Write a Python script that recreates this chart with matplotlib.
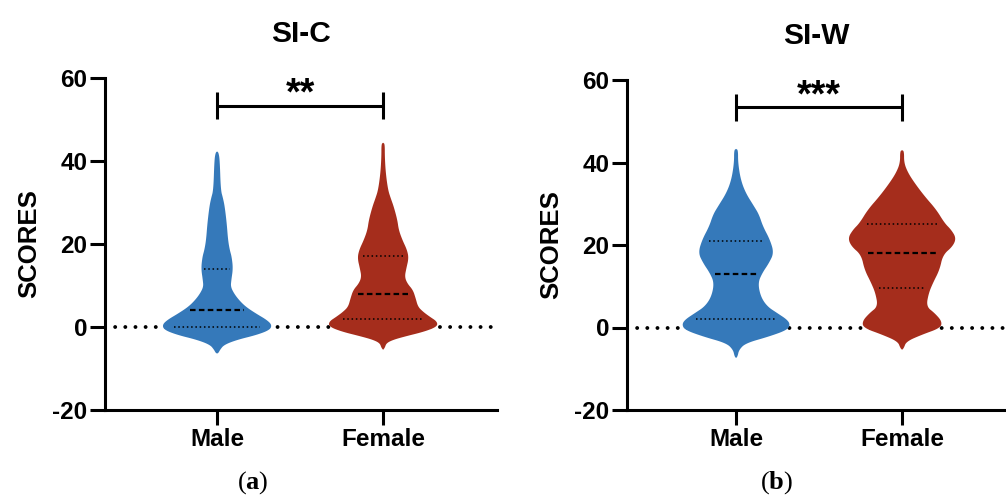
import numpy as np
import matplotlib
matplotlib.use("Agg")
import matplotlib.pyplot as plt

plt.rcParams.update({
    "font.family": "Liberation Sans",
    "font.weight": "bold",
    "axes.labelweight": "bold",
    "axes.unicode_minus": False,
    "mathtext.fontset": "custom",
    "mathtext.rm": "Liberation Serif",
    "mathtext.bf": "Liberation Serif:bold",
})

GROUPS = ["Male", "Female"]
PANELS = ["SI-C", "SI-W"]
PANEL_TAGS = ["a", "b"]
STARS = ["**", "***"]
Y_TICKS = [-20, 0, 20, 40, 60]

# violin outlines: score level -> density (half width, arbitrary units)
SIC_MALE_LEVELS = [42.3, 42.0, 40.2, 33.0, 31.0, 29.0, 25.0, 21.0, 18.6, 16.9, 14.1, 11.3, 9.7,
                   8.1, 6.5, 4.9, 3.3, 1.7, 0.5, -0.7, -1.9, -3.1, -4.3, -5.5, -6.2, -6.4]
SIC_MALE_DENS = [0, 1.5, 2.7, 3.7, 6.0, 7.7, 9.7, 11.0, 12.7, 14.7, 16.0, 14.3, 13.7,
                 17.0, 22.0, 28.7, 38.7, 50.0, 55.0, 53.0, 40.0, 20.0, 7.0, 3.0, 1.5, 0]

SIC_FEMALE_LEVELS = [44.4, 44.1, 41.0, 37.0, 33.0, 31.0, 29.0, 25.8, 23.4, 21.0, 18.6, 16.6, 14.1,
                     12.1, 10.5, 8.9, 6.9, 4.9, 3.7, 2.5, 1.3, 0.1, -1.1, -2.3, -3.1, -3.9, -5.0, -5.5]
SIC_FEMALE_DENS = [0, 1.7, 1.7, 2.7, 5.0, 7.7, 10.7, 14.3, 15.7, 19.3, 24.0, 25.7, 23.3,
                   21.7, 24.3, 30.0, 32.7, 35.0, 40.0, 46.7, 54.3, 54.3, 41.7, 21.7, 10.0, 3.3, 1.7, 0]

SIW_MALE_LEVELS = [43.3, 43.0, 39.9, 35.8, 32.6, 29.4, 27.4, 24.5, 21.3, 18.1, 15.6, 13.2,
                   10.8, 7.5, 5.1, 3.5, 1.9, 0.7, -0.6, -2.2, -3.8, -5.4, -7.0, -7.4]
SIW_MALE_DENS = [0, 2.0, 2.0, 4.7, 9.7, 18.0, 23.0, 27.0, 34.0, 38.0, 33.0, 26.3,
                 22.0, 24.7, 31.3, 41.3, 51.3, 54.3, 51.3, 33.0, 9.7, 3.0, 1.5, 0]

SIW_FEMALE_LEVELS = [43.0, 42.7, 39.9, 37.5, 35.0, 31.8, 28.6, 25.3, 23.7, 21.7, 19.7, 17.6,
                     14.0, 10.8, 8.3, 5.1, 3.5, 1.5, -0.1, -1.8, -3.4, -5.0, -5.4]
SIW_FEMALE_DENS = [0, 2.0, 2.0, 6.0, 12.7, 22.7, 34.3, 42.7, 49.3, 54.3, 51.0, 41.0,
                   37.7, 31.0, 26.7, 24.3, 32.7, 40.0, 38.7, 19.3, 4.3, 1.7, 0]

# lower quartile, median, upper quartile
SIC_MALE_QUART = [0, 4, 14]
SIC_FEMALE_QUART = [2, 8, 17]
SIW_MALE_QUART = [2, 13, 21]
SIW_FEMALE_QUART = [9.5, 18, 25]

# significance bracket height (score)
BRACKET_Y = [53.3, 53.4]

COLORS = ["#3579ba", "#a52d1c"]
MAX_HALF = 0.33   # half width of widest violin, in group units
LINE_FRAC = 0.8   # quartile lines don't reach the violin edge


def chaikin(x, y, n_iter=3):
    # corner cutting on a closed outline, just to round off the polygon look
    for _ in range(n_iter):
        x2 = np.roll(x, -1)
        y2 = np.roll(y, -1)
        qx, qy = 0.75 * x + 0.25 * x2, 0.75 * y + 0.25 * y2
        rx, ry = 0.25 * x + 0.75 * x2, 0.25 * y + 0.75 * y2
        x = np.column_stack([qx, rx]).ravel()
        y = np.column_stack([qy, ry]).ravel()
    return x, y


def draw_violin(ax, pos, levels, dens, quart, color, dmax):
    levels = np.asarray(levels, dtype=float)
    w = np.asarray(dens, dtype=float) / dmax * MAX_HALF
    xs = np.concatenate([pos + w, (pos - w)[::-1]])
    ys = np.concatenate([levels, levels[::-1]])
    xs, ys = chaikin(xs, ys)
    ax.fill(xs, ys, color=color, lw=0, zorder=2)

    order = np.argsort(levels)
    for i, q in enumerate(quart):
        hw = np.interp(q, levels[order], w[order]) * LINE_FRAC
        if i == 1:
            ax.plot([pos - hw, pos + hw], [q, q], color="black", lw=1.6,
                    linestyle=(0, (2.5, 1.5)), zorder=3)
        else:
            ax.plot([pos - hw, pos + hw], [q, q], color="black", lw=1.1,
                    linestyle=(0, (1, 1.8)), zorder=3)


def style_axes(ax, title, xlim):
    ax.set_xlim(xlim)
    ax.set_ylim(-20, 60)
    ax.set_yticks(Y_TICKS)
    ax.set_xticks([1, 2])
    ax.set_xticklabels(GROUPS)
    for side in ["top", "right"]:
        ax.spines[side].set_visible(False)
    for side in ["left", "bottom"]:
        ax.spines[side].set_linewidth(2.2)
    ax.tick_params(width=2.2, length=10.8, labelsize=17.5, pad=2)
    ax.set_ylabel("SCORES", fontsize=18.5, fontweight="bold", labelpad=8)
    ax.set_title(title, fontsize=21.5, fontweight="bold", pad=26)
    ax.axhline(0, color="black", lw=2.8, linestyle=(0, (0.01, 2.6)),
               dash_capstyle="round", zorder=1)


def draw_bracket(ax, y, stars):
    ax.plot([1, 2], [y, y], color="black", lw=2.2, solid_capstyle="butt", zorder=3)
    ax.vlines([1, 2], y - 3.3, y + 3.3, color="black", lw=2.2, zorder=3)
    ax.text(1.5, y + 0.3, stars, ha="center", va="baseline", fontsize=27)


def main():
    fig = plt.figure(figsize=(10.06, 4.96), dpi=100)
    ax1 = fig.add_axes([105 / 1006, 86 / 496, 392 / 1006, 332 / 496])
    ax2 = fig.add_axes([627 / 1006, 86 / 496, 379 / 1006, 330 / 496])

    data = [
        [(SIC_MALE_LEVELS, SIC_MALE_DENS, SIC_MALE_QUART),
         (SIC_FEMALE_LEVELS, SIC_FEMALE_DENS, SIC_FEMALE_QUART)],
        [(SIW_MALE_LEVELS, SIW_MALE_DENS, SIW_MALE_QUART),
         (SIW_FEMALE_LEVELS, SIW_FEMALE_DENS, SIW_FEMALE_QUART)],
    ]
    dmax = max(max(d) for panel in data for _, d, _ in panel)

    xlims = [(0.325, 2.686), (0.343, 2.626)]
    tag_x = [253 / 1006, 777 / 1006]
    for k, ax in enumerate([ax1, ax2]):
        style_axes(ax, PANELS[k], xlims[k])
        for j, (lv, dn, qt) in enumerate(data[k]):
            draw_violin(ax, j + 1, lv, dn, qt, COLORS[j], dmax)
        draw_bracket(ax, BRACKET_Y[k], STARS[k])
        fig.text(tag_x[k], 0.028, r"($\mathbf{" + PANEL_TAGS[k] + "}$)", fontsize=19,
                 ha="center", va="center", family="Liberation Serif", weight="normal")

    fig.savefig("out.png", dpi=100)


if __name__ == "__main__":
    main()
